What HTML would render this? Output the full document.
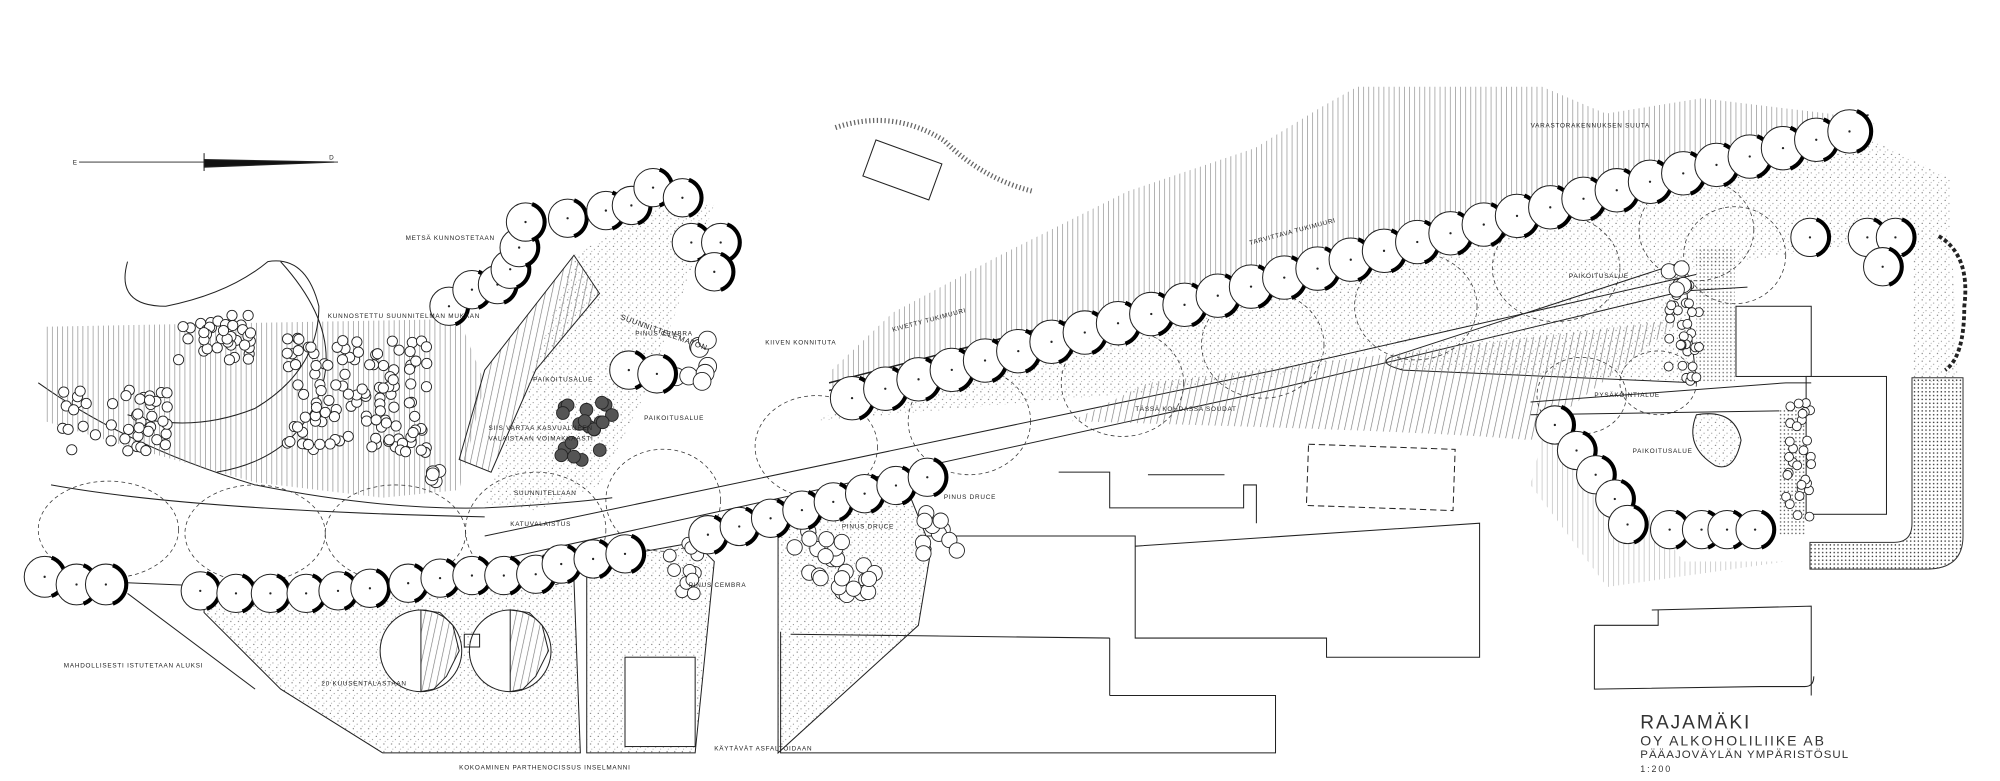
<!DOCTYPE html>
<html><head><meta charset="utf-8">
<style>
html,body{margin:0;padding:0;background:#fff;}
svg{display:block;}
text{font-family:"Liberation Sans",sans-serif;fill:#222;}
</style></head>
<body>
<svg id="s" width="2000" height="781" viewBox="0 0 1568 612" preserveAspectRatio="none" xmlns="http://www.w3.org/2000/svg">
<defs>
<pattern id="vh" width="4" height="10" patternUnits="userSpaceOnUse"><line x1="1" y1="0" x2="1" y2="10" stroke="#888" stroke-width="0.5"/></pattern>
<pattern id="dh" width="5" height="10" patternUnits="userSpaceOnUse" patternTransform="rotate(12)"><line x1="1" y1="0" x2="1" y2="10" stroke="#777" stroke-width="0.5"/></pattern>
<pattern id="st" width="6" height="6" patternUnits="userSpaceOnUse"><circle cx="1" cy="1" r="0.45" fill="#555"/><circle cx="4" cy="3.5" r="0.4" fill="#666"/><circle cx="2" cy="5" r="0.35" fill="#777"/></pattern>
<pattern id="st2" width="3" height="3" patternUnits="userSpaceOnUse"><circle cx="1" cy="1" r="0.6" fill="#333"/></pattern>
</defs>
<g fill="none" stroke="#222" stroke-width="0.8">
<path d="M650,292 L700,245 L784,200 L884,150 L984,116 L1034,85 L1064,68 L1209,68 L1259,89 L1334,77 L1434,89 L1470,97 L1460,100 L650,305 Z" fill="url(#vh)" stroke="none"/>
<path d="M655,100 Q700,85 740,110 Q770,140 810,150" stroke="#666" stroke-dasharray="1 2" stroke-width="4"/>
<rect x="680" y="118" width="55" height="30" transform="rotate(20 707 133)"/>
<path d="M650,300 L1465,90" stroke-width="1.2"/>
<path d="M650,306 L1465,96" stroke-dasharray="2 1.5" stroke-width="1.2"/>
<path d="M660,320 L1470,110 L1530,140 L1530,180 L1330,210 L980,300 L640,330 Z" fill="url(#st)" stroke="none"/>
<path d="M380,420 L1000,290 L1330,215" />
<path d="M385,440 L1000,305 L1320,228 L1370,225"/>
<path d="M30,300 Q100,350 200,380 Q300,400 380,398 Q440,395 480,390"/>
<path d="M40,380 Q150,400 380,405" />
<path d="M60,455 L180,460" />
<path d="M1090,280 L1320,205 L1330,300 L1100,290 Q1080,285 1090,280 Z" fill="url(#st)"/>
<path d="M900,300 L1320,250 L1230,320 L1200,345 Q1150,340 1000,335 L840,330 Z" fill="url(#dh)" stroke="none"/>
<path d="M1210,340 L1290,400 L1320,440 L1400,440 L1260,460 L1200,380 Z" fill="url(#vh)" stroke="none" opacity="0.6"/>
<path d="M35,256 L360,250 L380,300 L360,384 L300,390 L200,378 L100,350 L35,330 Z" fill="url(#vh)" stroke="none"/>
<path d="M100,205 Q90,240 130,240 Q180,230 210,205 Q240,200 250,240 Q250,290 200,320 Q150,340 100,325" />
<path d="M220,205 Q270,260 250,310 Q230,360 170,370"/>
<path d="M450,200 L470,230 L420,290 L385,370 L360,360 L380,290 Z" fill="url(#dh)"/>
<path d="M450,200 L520,160 L560,160 L510,300 L470,380 L420,400 L380,395" fill="url(#st)" stroke="none"/>
<path d="M160,470 L450,455 L455,590 L300,590 L220,540 L160,480 Z" fill="url(#st)"/>
<circle cx="330" cy="510" r="32" fill="#fff"/>
<circle cx="400" cy="510" r="32" fill="#fff"/>
<path d="M330,478 L330,542 L340,540 L350,530 L360,510 L355,490 L345,480 Z" fill="url(#dh)"/>
<path d="M400,478 L400,542 L410,540 L420,530 L430,510 L425,490 L415,480 Z" fill="url(#dh)"/>
<rect x="364" y="497" width="12" height="10"/>
<line x1="100" y1="465" x2="200" y2="540"/>
<path d="M460,440 L545,425 L560,440 L545,590 L460,590 Z" fill="url(#st)"/>
<rect x="490" y="515" width="55" height="70" fill="#fff"/>
<path d="M610,400 L710,380 L730,430 L720,490 L610,590 Z" fill="url(#st)"/>
<path d="M612,495 L612,590 L1000,590 L1000,545 L870,545"/>
<path d="M870,500 L870,545 M620,497 L870,500"/>
<path d="M720,420 L890,420 L890,500 L1040,500 L1040,515 L1160,515 L1160,410 L890,428"/>
<path d="M830,370 L870,370 L870,398 L975,398 L975,380 L985,380 L985,410 M900,372 L960,372"/>
<rect x="1025" y="350" width="115" height="48" stroke-dasharray="5 3" transform="rotate(2 1080 375)"/>
<path d="M1295,478 L1420,475 L1420,545 M1250,490 L1300,490 L1300,478 M1250,490 L1250,540 L1380,538 L1415,538 Q1422,538 1422,530"/>
<rect x="1361" y="240" width="59" height="55" fill="#fff"/>
<rect x="1416" y="295" width="63" height="108" fill="#fff"/>
<path d="M1499,296 L1539,296 L1539,420 Q1539,446 1510,446 L1419,446 L1419,425 L1485,425 Q1499,425 1499,410 Z" fill="url(#st2)" stroke="#333"/>
<path d="M1330,195 L1360,195 L1360,300 L1330,300 Z" fill="url(#st2)" stroke="none" opacity="0.7"/>
<path d="M1395,320 L1415,320 L1415,420 L1395,420 Z" fill="url(#st2)" stroke="none" opacity="0.8"/>
<path d="M1500,180 L1530,185 L1535,300 L1500,300 Z" fill="url(#st)" stroke="none"/>
<path d="M1520,185 Q1545,200 1540,240 Q1540,280 1525,290" stroke-width="3" stroke-dasharray="3 2"/>
<path d="M1330,325 Q1360,320 1365,345 Q1360,370 1345,365 Q1320,350 1330,325 Z" fill="url(#st)"/>
<path d="M1200,315 L1400,300 L1420,300 M1200,325 L1395,322"/>
<line x1="62" y1="127" x2="265" y2="127" stroke-width="0.6"/>
<path d="M160,125 L262,127 L160,131 Z" fill="#111"/>
<line x1="160" y1="120" x2="160" y2="134"/>
<text x="57" y="129" font-size="5" stroke="none">E</text><text x="258" y="125" font-size="5" stroke="none">D</text>
</g>
<g id="ell" fill="none" stroke="#333" stroke-width="0.6" stroke-dasharray="3 2.5"></g>
<g id="shr" fill="#fff" stroke="#222" stroke-width="0.7"></g>
<g id="trees"></g>
<g font-size="5" letter-spacing="0.6">
<text x="318" y="188">METSÄ KUNNOSTETAAN</text>
<text x="257" y="249">KUNNOSTETTU SUUNNITELMAN MUKAAN</text>
<text x="418" y="299">PAIKOITUSALUE</text>
<text x="486" y="250" font-size="6" transform="rotate(20 486 250)">SUUNNITTELEMATON</text>
<text x="498" y="263">PINUS CEMBRA</text>
<text x="505" y="329">PAIKOITUSALUE</text>
<text x="383" y="337">SIIS VARTAA KASVUALUEEN</text>
<text x="383" y="345">VALAISTAAN VOIMAKKAASTI</text>
<text x="403" y="388">SUUNNITELLAAN</text>
<text x="400" y="412">KATUVALAISTUS</text>
<text x="50" y="523">MAHDOLLISESTI ISTUTETAAN ALUKSI</text>
<text x="252" y="537">20 KUUSENTALASTAAN</text>
<text x="360" y="603">KOKOAMINEN PARTHENOCISSUS INSELMANNI</text>
<text x="560" y="588">KÄYTÄVÄT ASFALTOIDAAN</text>
<text x="540" y="460">PINUS CEMBRA</text>
<text x="660" y="414">PINUS DRUCE</text>
<text x="740" y="391">PINUS DRUCE</text>
<text x="600" y="270">KIIVEN KONNITUTA</text>
<text x="700" y="260" transform="rotate(-15 700 260)">KIVETTY TUKIMUURI</text>
<text x="980" y="192" transform="rotate(-15 980 192)">TARVITTAVA TUKIMUURI</text>
<text x="1200" y="100">VARASTORAKENNUKSEN SUUTA</text>
<text x="1230" y="218">PAIKOITUSALUE</text>
<text x="1250" y="311">PYSÄKÖINTIALUE</text>
<text x="1280" y="355">PAIKOITUSALUE</text>
<text x="890" y="322">TÄSSÄ KOHDASSA SOUDAT</text>
</g>
<g stroke="none" letter-spacing="1.5">
<text x="1286" y="571" font-size="15" style="fill:#333">RAJAMÄKI</text>
<text x="1286" y="584" font-size="11" style="fill:#333">OY ALKOHOLILIIKE AB</text>
<text x="1286" y="594" font-size="9" style="fill:#333" letter-spacing="0.8">PÄÄAJOVÄYLÄN YMPÄRISTÖSUL</text>
<text x="1286" y="605" font-size="7" style="fill:#333">1:200</text>
</g>
</svg>
<script>
var NS="http://www.w3.org/2000/svg";
function el(p,t,a){var e=document.createElementNS(NS,t);for(var k in a)e.setAttribute(k,a[k]);document.getElementById(p).appendChild(e);return e;}
function tree(x,y,r){r=r||16;
 el("trees","circle",{cx:x,cy:y,r:r,fill:"#fff",stroke:"#222","stroke-width":0.8});
 var a=70*Math.PI/180;
 var x1=x+r*Math.cos(-a),y1=y+r*Math.sin(-a),x2=x+r*Math.cos(a),y2=y+r*Math.sin(a);
 el("trees","path",{d:"M"+x1+" "+y1+" A"+r+" "+r+" 0 0 1 "+x2+" "+y2,fill:"none",stroke:"#000","stroke-width":3.2});
 el("trees","circle",{cx:x,cy:y,r:0.9,fill:"#222"});
}
var n=31;for(var i=0;i<n;i++){var t=i/(n-1);tree(668+t*(1450-668),312+t*(103-312)-Math.sin(t*Math.PI)*4,17);}
[[35,452],[60,458],[83,458]].forEach(function(p){tree(p[0],p[1],16);});
var low=[[157,463],[185,465],[212,465],[240,465],[265,463],[290,461],[320,457],[345,453],[370,451],[395,451],[420,450],[440,442],[465,438],[490,434]];
low.forEach(function(p){tree(p[0],p[1],15);});
for(var i=0;i<8;i++){var t=i/7;tree(555+t*(727-555),419+t*(374-419),15);}
[[352,240],[370,227],[390,223],[400,211],[407,194],[412,174],[445,171],[475,165],[495,161],[512,147],[535,155],[542,190],[565,190],[560,213],[493,290],[515,293]].forEach(function(p){tree(p[0],p[1],15);});
[[1219,333],[1236,353],[1251,372],[1266,391],[1276,411],[1309,415],[1334,415],[1354,415],[1376,415],[1419,186],[1464,186],[1486,186],[1476,209]].forEach(function(p){tree(p[0],p[1],15);});
[[85,415,55,38],[200,418,55,38],[310,418,55,38],[420,415,55,45],[520,392,45,40],[640,350,48,40],[760,330,48,42],[880,300,48,42],[990,270,48,42],[1110,240,48,42],[1220,210,50,42],[1330,180,45,40],[1360,200,40,38],[1240,310,35,30],[1300,300,30,25]].forEach(function(e){el("ell","ellipse",{cx:e[0],cy:e[1],rx:e[2],ry:e[3]});});
Math.random=(function(){var s=7;return function(){s=(s*16807)%2147483647;return s/2147483647;};})();
function cluster(cx,cy,w,h,n,r,fill){for(var i=0;i<n;i++){var a=Math.random(),b=Math.random();el("shr","circle",{cx:cx+(a-0.5)*w,cy:cy+(b-0.5)*h,r:r,fill:fill||"#fff"});}}
cluster(170,265,60,40,40,4);
cluster(280,310,110,90,120,4);
cluster(90,330,90,50,45,4);
cluster(460,340,40,50,20,5,"#555");
cluster(540,280,40,40,8,7);
cluster(655,445,70,60,25,6);
cluster(740,420,40,40,10,6);
cluster(535,445,25,50,12,5);
cluster(1320,260,25,80,35,3.5);
cluster(1410,360,20,90,30,3.5);
cluster(1310,220,25,20,5,6);
cluster(345,375,15,12,5,5);
</script>
</body></html>
